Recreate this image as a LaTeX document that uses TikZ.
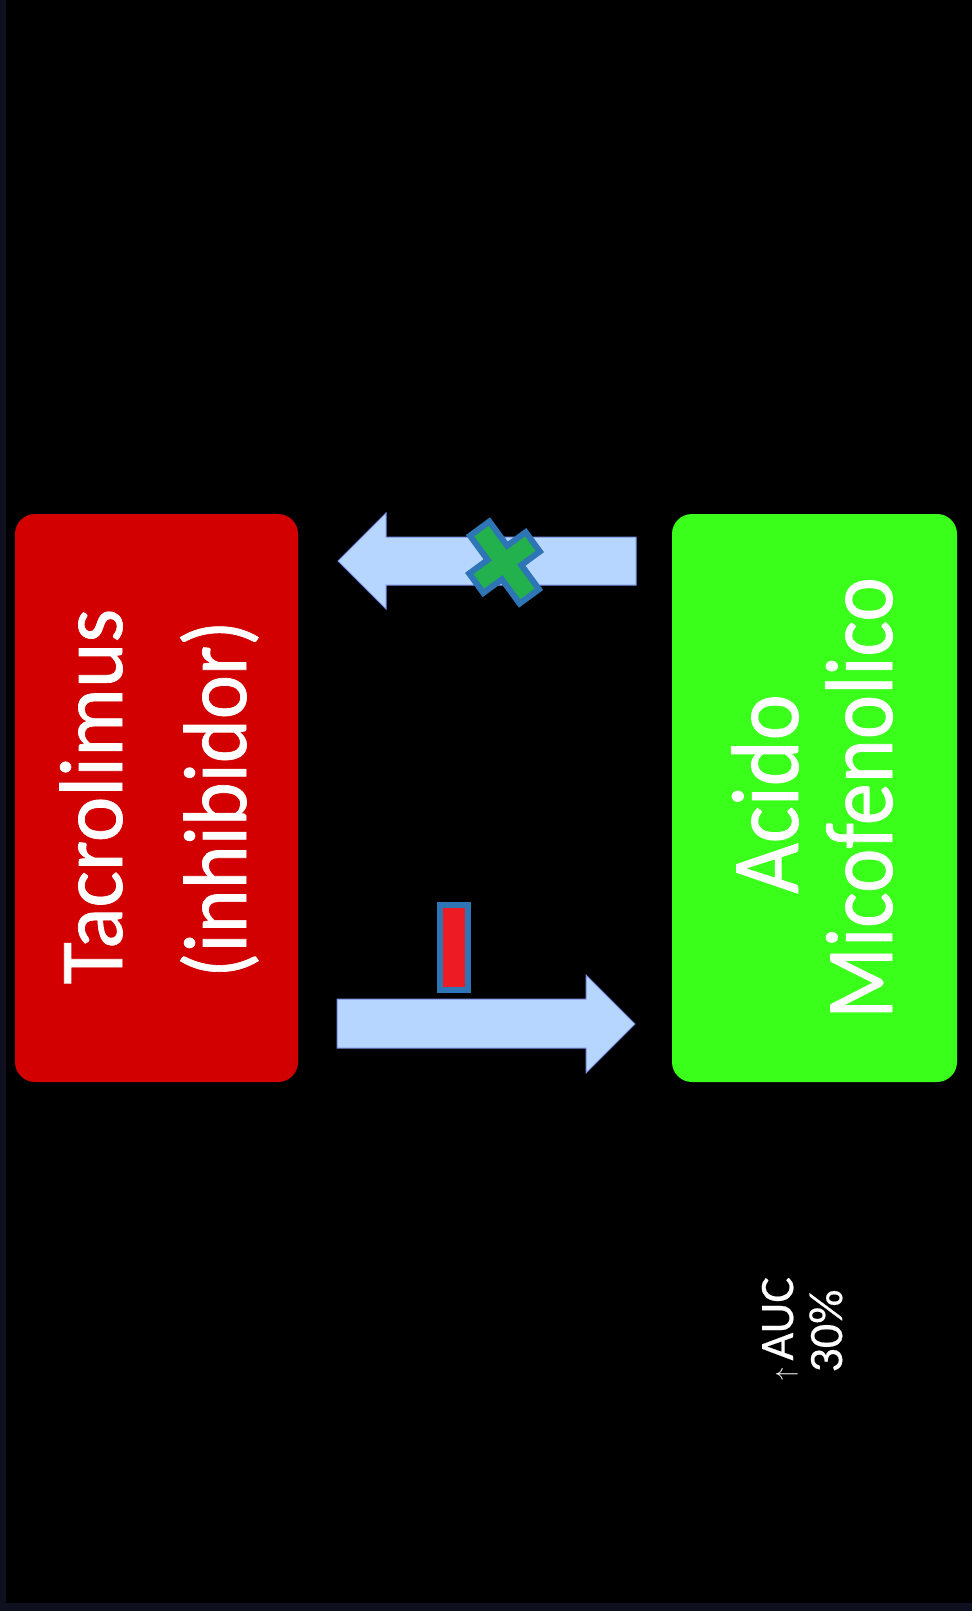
\documentclass[tikz,border=0pt]{standalone}
\usepackage{fontspec}
\setmainfont{Carlito}
\newfontfamily\bigfont{Carlito}[FakeBold=0.8]
\newfontfamily\smallfont{Carlito}[FakeBold=0.4]
\usepackage{graphicx}
\definecolor{navy}{RGB}{14,16,32}
\definecolor{boxred}{RGB}{210,0,0}
\definecolor{boxgreen}{RGB}{58,255,26}
\definecolor{arrowfill}{RGB}{182,214,255}
\definecolor{arrowline}{RGB}{120,140,225}
\definecolor{markblue}{RGB}{46,117,182}
\definecolor{markgreen}{RGB}{34,177,76}
\definecolor{markred}{RGB}{237,28,36}
\tikzset{
  drugbox/.style={draw=none, rounded corners=20pt},
  vlabel/.style={rotate=90, anchor=base, inner sep=0pt, text=white},
  blockarrow/.style={fill=arrowfill, draw=arrowline, line width=1pt},
  markshape/.style={draw=markblue, line width=6pt, line join=miter},
}
\begin{document}
\begin{tikzpicture}[x=1pt,y=-1pt]
\useasboundingbox (0,0) rectangle (972,1611);
\fill[navy] (0,0) rectangle (972,1611);
\fill[black] (6,0) rectangle (972,1603);
% boxes
\fill[drugbox, fill=boxred] (15,514) rectangle (298,1082);
\fill[drugbox, fill=boxgreen] (672,514) rectangle (957,1082);
\node[vlabel, font=\bigfont\fontsize{90}{90}\selectfont] (tac) at (122,796.5) {\scalebox{0.96}[1]{Tacrolimus}};
\node[vlabel, font=\bigfont\fontsize{90}{90}\selectfont] (inh) at (246,799) {\scalebox{0.93}[1]{(inhibidor)}};
\node[vlabel, font=\bigfont\fontsize{96}{96}\selectfont] (aci) at (798,794) {\scalebox{0.91}[1]{Acido}};
\node[vlabel, font=\bigfont\fontsize{96}{96}\selectfont] (mic) at (892,798) {\scalebox{0.875}[1]{Micofenolico}};
% block arrows
\filldraw[blockarrow] (636,537) -- (386,537) -- (386,513) -- (338,561) -- (386,609) -- (386,585) -- (636,585) -- cycle;
\filldraw[blockarrow] (337,999) -- (586,999) -- (586,975) -- (635,1024) -- (586,1073) -- (586,1048) -- (337,1048) -- cycle;
% X mark
\filldraw[markshape, fill=markgreen] (519.6,603.5) -- (501.9,579.3) -- (483.3,592.9) -- (469.2,573.5) -- (487.7,559.9) -- (470.0,535.7) -- (489.4,521.5) -- (507.1,545.7) -- (525.7,532.2) -- (539.8,551.5) -- (521.3,565.1) -- (539.0,589.3) -- cycle;
% minus mark
\filldraw[markshape, fill=markred] (440,905) rectangle (468,990);
% AUC label
\node[vlabel, font=\smallfont\fontsize{48}{48}\selectfont] (auc) at (793,1329) {{\fontsize{28}{28}\selectfont$\uparrow$}\,AUC};
\node[vlabel, font=\smallfont\fontsize{48}{48}\selectfont] (pct) at (842,1331) {30\%};
\end{tikzpicture}
\end{document}
